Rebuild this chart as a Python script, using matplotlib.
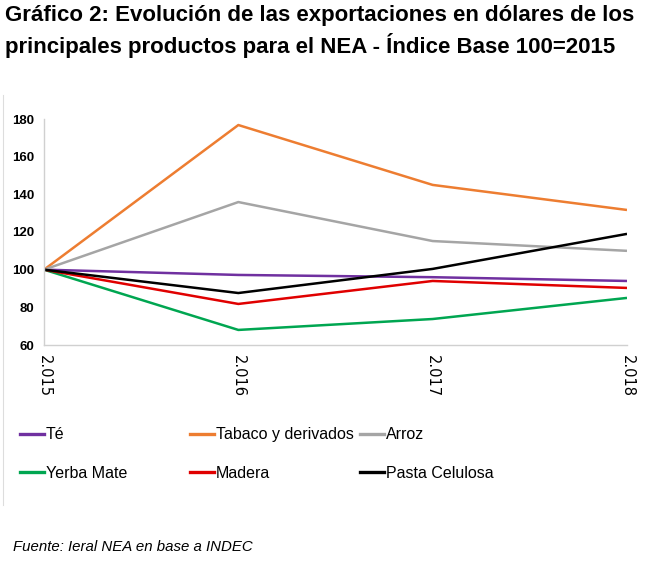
import matplotlib
matplotlib.use("Agg")
import matplotlib.pyplot as plt
from matplotlib.lines import Line2D

years = [2015, 2016, 2017, 2018]
year_labels = ["2.015", "2.016", "2.017", "2.018"]

te = [100, 97.2, 96.0, 94.0]
tabaco = [100, 176.8, 145.0, 131.7]
arroz = [100, 135.9, 115.2, 110.0]
yerba = [100, 68.0, 73.8, 85.0]
madera = [100, 81.8, 94.0, 90.3]
pasta = [100, 87.6, 100.4, 119.0]

series = [
    ("Té", te, "#7030a0"),
    ("Tabaco y derivados", tabaco, "#ed7d31"),
    ("Arroz", arroz, "#a5a5a5"),
    ("Yerba Mate", yerba, "#00a651"),
    ("Madera", madera, "#e00000"),
    ("Pasta Celulosa", pasta, "#000000"),
]

plt.rcParams['font.family'] = ['Liberation Sans', 'DejaVu Sans']

fig = plt.figure(figsize=(6.47, 5.61), dpi=100)
ax = fig.add_axes([44 / 647, 1 - 345 / 561, (627 - 44) / 647, (345 - 119) / 561])

for name, vals, col in series:
    ax.plot(years, vals, color=col, lw=1.8, solid_capstyle='butt')

ax.set_xlim(2015, 2018)
ax.set_ylim(60, 180)
ax.set_yticks([60, 80, 100, 120, 140, 160, 180])
ax.set_xticks(years)
ax.set_xticklabels(year_labels, rotation=270, fontsize=10.5, family='DejaVu Sans')
ax.tick_params(axis='y', labelsize=9.5, length=0, pad=7)
ax.tick_params(axis='x', length=0, pad=7)
for lab in ax.get_yticklabels():
    lab.set_fontweight('bold')
for s in ['top', 'right']:
    ax.spines[s].set_visible(False)
for s in ['left', 'bottom']:
    ax.spines[s].set_color('#d0d0d0')
    ax.spines[s].set_linewidth(1)

# faint chart border on the left
fig.add_artist(Line2D([3 / 647, 3 / 647], [1 - 505 / 561, 1 - 95 / 561], color='#dddddd', lw=0.8))

# legend: three columns of two
cols_x = [14 / 647, 184 / 647, 354 / 647]
for i, cx in enumerate(cols_x):
    handles = []
    for name, vals, col in [series[i], series[i + 3]]:
        handles.append(Line2D([], [], color=col, lw=2.4, label=name))
    fig.legend(handles=handles, loc='upper left', bbox_to_anchor=(cx, 1 - 421 / 561),
               frameon=False, fontsize=11.5,
               handlelength=1.45, handletextpad=0.15,
               labelspacing=1.45, borderaxespad=0)

fig.text(5 / 647, 1 - 16 / 561, "Gráfico 2: Evolución de las exportaciones en dólares de los",
         fontsize=16, fontweight='bold', va='center', ha='left')
fig.text(5 / 647, 1 - 46 / 561, "principales productos para el NEA - Índice Base 100=2015",
         fontsize=16, fontweight='bold', va='center', ha='left')
fig.text(13 / 647, 1 - 547 / 561, "Fuente: Ieral NEA en base a INDEC",
         fontsize=10.8, style='italic', va='center', ha='left')

fig.savefig("out.png", dpi=100)
